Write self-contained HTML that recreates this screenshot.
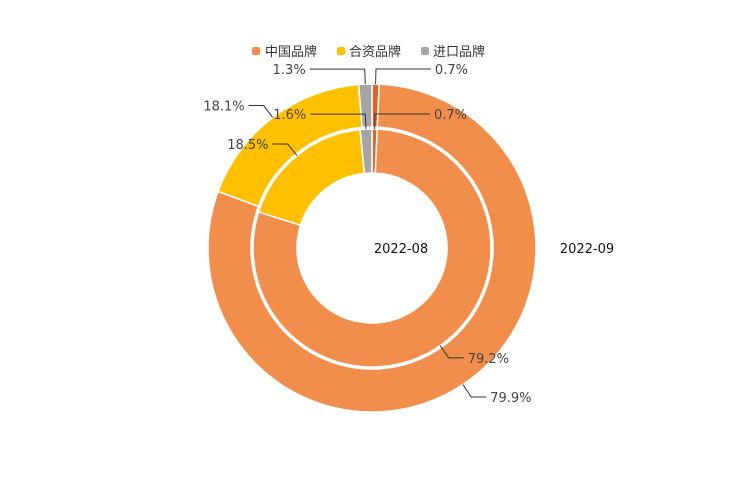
<!DOCTYPE html>
<html><head><meta charset="utf-8"><style>
body{margin:0;background:#fff;}
svg{display:block;font-family:"DejaVu Sans","Liberation Sans","Noto Sans CJK SC",sans-serif;}
</style></head><body>
<svg id="chart" width="744" height="496">
<g id="legend">
 <g><rect x="252" y="47" width="8" height="8" rx="2" fill="#f18e4b"/><text x="265" y="56" font-size="13" fill="#333">中国品牌</text></g>
 <g><rect x="337" y="47" width="8" height="8" rx="2" fill="#ffc000"/><text x="349" y="56" font-size="13" fill="#333">合资品牌</text></g>
 <g><rect x="421" y="47" width="8" height="8" rx="2" fill="#a5a5a5"/><text x="433" y="56" font-size="13" fill="#333">进口品牌</text></g>
</g>
<text x="401" y="253" font-size="13" text-anchor="middle" fill="#111">2022-08</text>
<text x="587" y="253" font-size="13" text-anchor="middle" fill="#111">2022-09</text>
</svg>
<script>
const categories=["其他","中国品牌","合资品牌","进口品牌"];
const values0808=[0.7,79.2,18.5,1.6];
const values0909=[0.7,79.9,18.1,1.3];
const colors=["#e3642b","#f18e4b","#ffc000","#a5a5a5"];
const cx=372,cy=248;
const svg=document.getElementById('chart');
const NS='http://www.w3.org/2000/svg';
function pt(r,a){return [cx+r*Math.sin(a),cy-r*Math.cos(a)];}
function ring(vals,r0,r1,name){
 const tot=vals.reduce((s,v)=>s+v,0);let acc=0;
 vals.forEach((v,i)=>{
  const a0=acc/tot*2*Math.PI;acc+=v;const a1=acc/tot*2*Math.PI;
  const big=(a1-a0)>Math.PI?1:0;
  const p0=pt(r1,a0),p1=pt(r1,a1),p2=pt(r0,a1),p3=pt(r0,a0);
  const p=document.createElementNS(NS,'path');
  p.setAttribute('d',`M${p0}A${r1},${r1} 0 ${big} 1 ${p1}L${p2}A${r0},${r0} 0 ${big} 0 ${p3}Z`);
  p.setAttribute('fill',colors[i]);p.setAttribute('stroke','#fff');p.setAttribute('stroke-width','1.5');
  
  
  svg.appendChild(p);
  const am=(a0+a1)/2,s=Math.sin(am),c=Math.cos(am);
  const e0=pt(r1,am),e1=pt(r1+15,am);
  const len=Math.abs(s)<0.2?55:15;const dir=s>=0?1:-1;
  const e2=[e1[0]+dir*len,e1[1]];
  const l=document.createElementNS(NS,'polyline');
  l.setAttribute('points',`${e0} ${e1} ${e2}`);l.setAttribute('fill','none');l.setAttribute('stroke','#333');l.setAttribute('stroke-width','1');
  
  
  svg.appendChild(l);
  const t=document.createElementNS(NS,'text');
  t.setAttribute('x',e2[0]+dir*4);t.setAttribute('y',e2[1]+5);t.setAttribute('font-size','13');t.setAttribute('fill','#444');
  t.setAttribute('text-anchor',dir>0?'start':'end');t.textContent=v.toFixed(1)+'%';
  
  
  svg.appendChild(t);
 });
}
ring(values0909,121,164,'outer');
ring(values0808,75,119,'inner');
</script>
</body></html>
